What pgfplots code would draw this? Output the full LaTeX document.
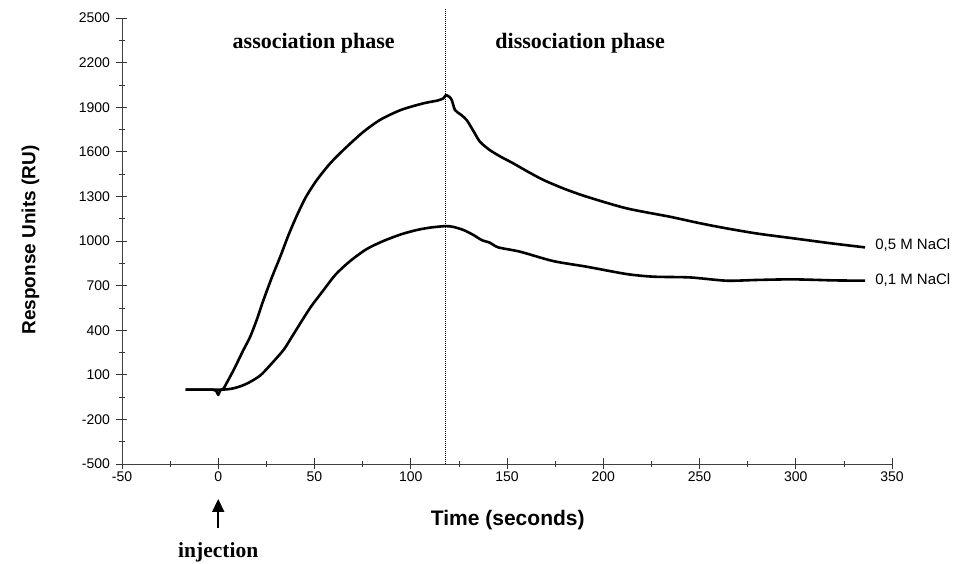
\documentclass[border=0pt]{standalone}
\usepackage{pgfplots}
\pgfplotsset{compat=1.18}
\usepackage{fontspec}
\setmainfont{Liberation Sans}
\newfontfamily\timesbf{Liberation Serif}
\usetikzlibrary{arrows.meta}
\begin{document}
\begin{tikzpicture}
\path[use as bounding box] (-122pt,-100pt) rectangle (834pt,464pt);
\begin{axis}[
  scale only axis, width=770pt, height=446pt,
  xmin=-50, xmax=350, ymin=-500, ymax=2500,
  axis x line=bottom, axis y line=left,
  axis line style={black!75, line width=0.7pt, -},
  xtick={-50,0,...,350}, ytick={-500,-200,...,2500},
  minor x tick num=1, minor y tick num=1,
  tick align=center,
  major tick length=11pt, minor tick length=6pt,
  tick style={black!80, line width=0.6pt},
  /pgf/number format/assume math mode=true,
  /pgf/number format/1000 sep={},
  ticklabel style={font=\fontsize{14}{15}\selectfont},
  xticklabel style={yshift=1pt},
  yticklabel style={xshift=-3pt},
  xlabel={\textbf{Time (seconds)}},
  ylabel={\textbf{Response Units (RU)}},
  xlabel style={font=\fontsize{21}{24}\selectfont, at={(axis description cs:0.501,-0.1256)}, anchor=center},
  ylabel style={font=\fontsize{19}{22}\selectfont, at={(axis description cs:-0.119,0.502)}, anchor=center, rotate=0},
  clip=false,
]
% dotted separator
\addplot[black, densely dotted, line width=1pt] coordinates {(118,-500) (118,2565)};
% 0.5 M NaCl
\addplot[black, line width=2.6pt, line join=round, smooth, tension=0.45] coordinates {
(-17,0) (-10,0) (-3,0) (-1,-10) (0,-35) (1,-5) (2.8,9) (5,60) (7.5,120) (9.7,177)
(13,265) (16.6,356) (20,470) (23.5,603) (28,760) (32.2,894) (36.5,1040) (40.8,1170)
(45.5,1295) (51.2,1410) (58,1520) (65,1612) (75,1730) (84.1,1815) (95,1882)
(106.6,1926) (114,1945) (117,1960) (118.2,1981) (120,1970) (121.3,1948) (123,1881)
(126,1850) (129.1,1813) (133,1730) (136,1667) (141,1612) (147,1565) (153.3,1522)
(161,1465) (169,1410) (180,1350) (191.4,1298) (212,1220) (234.7,1163) (250,1120)
(264,1085) (280,1050) (298.7,1018) (318,985) (336,957)};
% 0.1 M NaCl
\addplot[black, line width=2.6pt, line join=round, smooth, tension=0.45] coordinates {
(-17,0) (0,0) (5,3) (7.9,9) (12,25) (16,48) (21.8,95) (27,165) (33.9,267) (38,350)
(42.6,446) (48,555) (54.7,670) (61,775) (68.5,865) (77,945) (85.8,1000) (95,1045)
(103.2,1074) (110,1090) (117.9,1100) (122,1095) (127.4,1074) (132.6,1040) (136.9,1006)
(141.2,988) (145.5,957) (156.8,928) (174,865) (191.4,827) (212,778) (226,760)
(245,755) (264,733) (280,738) (298.7,742) (320,735) (336,733)};
\node[anchor=west, font=\fontsize{15}{16}\selectfont] at (axis cs:339.5,975) {0,5 M NaCl};
\node[anchor=west, font=\fontsize{15}{16}\selectfont] at (axis cs:339.5,735) {0,1 M NaCl};
\node[font=\timesbf\bfseries\fontsize{22}{24}\selectfont] at (axis cs:49.6,2331) {association phase};
\node[font=\timesbf\bfseries\fontsize{22}{24}\selectfont] at (axis cs:188,2331) {dissociation phase};
\node[font=\timesbf\bfseries\fontsize{21.5}{24}\selectfont] at (axis cs:0,-1092) {injection};
\draw[black, line width=1.8pt, -{Triangle[length=13pt,width=12pt]}] (axis cs:0,-930) -- (axis cs:0,-735);
\end{axis}
\end{tikzpicture}
\end{document}
